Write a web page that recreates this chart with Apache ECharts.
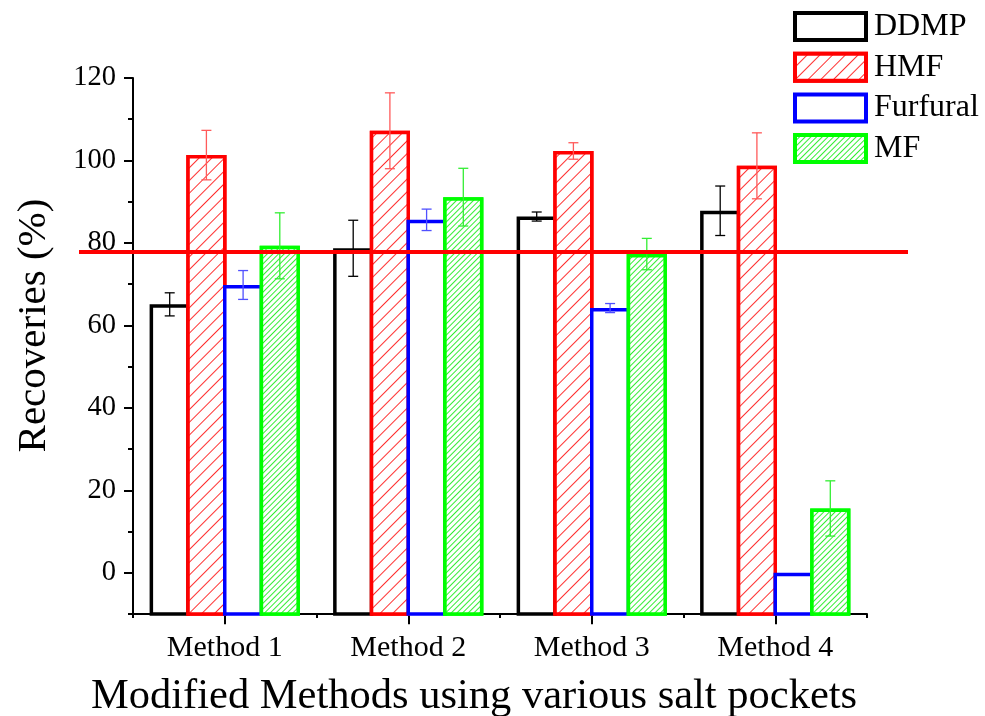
<!DOCTYPE html>
<html>
<head>
<meta charset="utf-8">
<script src="https://cdn.jsdelivr.net/npm/echarts@6/dist/echarts.min.js"></script>
<style>html,body{margin:0;padding:0;background:#fff}#c{width:985px;height:716px}</style>
</head>
<body>
<div id="c"></div>
<script>
const categories = ['Method 1', 'Method 2', 'Method 3', 'Method 4'];
const seriesNames = ['DDMP', 'HMF', 'Furfural', 'MF'];
const ddmp = [65.1, 78.7, 86.4, 87.8];
const ddmpErr = [2.8, 6.8, 1.1, 6.0];
const hmf = [101.3, 107.2, 102.3, 98.7];
const hmfErr = [6.0, 9.2, 2.0, 8.0];
const furfural = [69.8, 85.6, 64.2, 0];
const furfuralErr = [3.5, 2.6, 1.1, 0];
const mf = [79.3, 91.1, 77.3, 15.6];
const mfErr = [8.0, 7.0, 3.8, 6.7];
const refLine = 77.8;
const yTicks = [0, 20, 40, 60, 80, 100, 120];

const FONT = 'Liberation Serif';
const values = [ddmp, hmf, furfural, mf];
const errs = [ddmpErr, hmfErr, furfuralErr, mfErr];
const borderColors = ['#000000', '#ff0000', '#0000ff', '#00ff00'];
const errColors = ['#000000', '#ff5a5a', '#5050ff', '#33ee33'];
const decals = [
  null,
  {symbol: 'rect', symbolSize: 1, dashArrayX: [1, 0], dashArrayY: [1, 8], rotation: -Math.PI / 4, color: '#ff3030', backgroundColor: '#ffffff'},
  null,
  {symbol: 'rect', symbolSize: 1, dashArrayX: [1, 0], dashArrayY: [1, 3], rotation: -Math.PI / 4, color: '#33ee33', backgroundColor: '#ffffff'}
];
const BAR_GAP = -0.087;
const CAT_GAP = 0.181;

const chart = echarts.init(document.getElementById('c'), null, {renderer: 'canvas'});

const series = [];
seriesNames.forEach((name, i) => {
  const itemStyle = {color: '#ffffff', borderColor: borderColors[i], borderWidth: 3.5};
  if (decals[i]) itemStyle.decal = decals[i];
  series.push({
    name: name, type: 'bar', xAxisIndex: 0, yAxisIndex: 0,
    barGap: (BAR_GAP * 100) + '%', barCategoryGap: (CAT_GAP * 100) + '%',
    itemStyle: itemStyle, emphasis: {disabled: true},
    data: values[i], z: 2
  });
});
seriesNames.forEach((name, i) => {
  series.push({
    name: name + ' error', type: 'custom', xAxisIndex: 0, yAxisIndex: 0, z: 3,
    data: values[i].map((v, k) => [k, v, errs[i][k], i]),
    encode: {x: 0, y: 1},
    renderItem: function (params, api) {
      const cat = api.value(0), v = api.value(1), e = api.value(2), s = api.value(3);
      if (!e) return null;
      const c = api.coord([cat, v]);
      const band = api.size([1, 0])[0];
      const w = band * (1 - CAT_GAP) / (4 + 3 * BAR_GAP);
      const step = w * (1 + BAR_GAP);
      const x = c[0] + (s - 1.5) * step;
      const yt = api.coord([cat, v + e])[1];
      const yb = api.coord([cat, v - e])[1];
      const hw = 5;
      const st = {stroke: errColors[s], lineWidth: 1.3};
      return {type: 'group', children: [
        {type: 'line', shape: {x1: x, y1: yt, x2: x, y2: yb}, style: st},
        {type: 'line', shape: {x1: x - hw, y1: yt, x2: x + hw, y2: yt}, style: st},
        {type: 'line', shape: {x1: x - hw, y1: yb, x2: x + hw, y2: yb}, style: st}
      ]};
    }
  });
});
series.push({
  name: 'ref', type: 'line', xAxisIndex: 2, yAxisIndex: 2, z: 5,
  symbol: 'none', silent: true,
  lineStyle: {color: '#ff0000', width: 4},
  data: [[0, refLine], [1, refLine]]
});

const option = {
  animation: false,
  backgroundColor: '#ffffff',
  title: {
    text: 'Modified Methods using various salt pockets',
    left: 91, top: 675, padding: 0,
    textStyle: {fontFamily: FONT, fontSize: 42.5, fontWeight: 'normal', color: '#000'}
  },
  legend: {
    data: seriesNames,
    icon: 'rect',
    orient: 'vertical', left: 793, top: 10.5, padding: 0,
    itemWidth: 71, itemHeight: 27, itemGap: 8.7,
    itemStyle: {borderWidth: 4},
    textStyle: {fontFamily: FONT, fontSize: 32, color: '#000', padding: [0, 0, 0, 3]},
    selectedMode: false
  },
  grid: [
    {left: 133, right: 118, top: 78, bottom: 102},
    {left: 133, right: 118, top: 78, bottom: 143},
    {left: 79, right: 77, top: 78, bottom: 102}
  ],
  xAxis: [
    {type: 'category', gridIndex: 0, data: categories,
     axisLine: {onZero: false, lineStyle: {color: '#000', width: 2}},
     axisTick: {show: true, length: 4, lineStyle: {color: '#000', width: 2}},
     axisLabel: {show: false}, splitLine: {show: false}},
    {type: 'category', gridIndex: 1, data: categories, offset: 41.2,
     axisLine: {show: false, onZero: false},
     axisTick: {show: true, alignWithLabel: true, length: 10, lineStyle: {color: '#000', width: 2}},
     axisLabel: {fontFamily: FONT, fontSize: 30, color: '#000', margin: 19}},
    {type: 'value', gridIndex: 2, min: 0, max: 1, show: false}
  ],
  yAxis: [
    {type: 'value', gridIndex: 0, min: -10, max: 120, interval: 10, startValue: -10.45,
     axisLine: {show: true, lineStyle: {color: '#000', width: 2}},
     axisTick: {show: true, length: 5, lineStyle: {color: '#000', width: 2}},
     axisLabel: {show: false}, splitLine: {show: false}},
    {type: 'value', gridIndex: 1, min: 0, max: 120, interval: 20,
     axisLine: {show: false},
     axisTick: {show: true, length: 9, lineStyle: {color: '#000', width: 2}},
     axisLabel: {fontFamily: FONT, fontSize: 28.5, color: '#000', margin: 17,
       formatter: v => (yTicks.indexOf(v) >= 0 ? String(v) : '')},
     splitLine: {show: false},
     name: 'Recoveries (%)', nameLocation: 'middle', nameRotate: 90, nameGap: 78,
     nameTextStyle: {fontFamily: FONT, fontSize: 41, color: '#000'}},
    {type: 'value', gridIndex: 2, min: -10, max: 120, show: false}
  ],
  series: series
};
chart.setOption(option);
</script>
</body>
</html>
